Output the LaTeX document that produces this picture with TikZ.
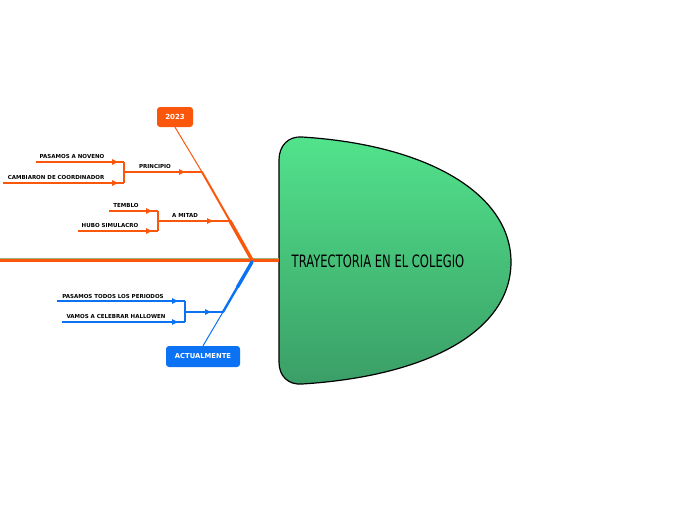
\documentclass[tikz,border=0pt]{standalone}
\usepackage{fontspec}
\setmainfont{DejaVu Sans}
\usetikzlibrary{arrows.meta,calc}
\definecolor{ora}{HTML}{FA560C}
\definecolor{blu}{HTML}{0B72F4}
\definecolor{gtop}{HTML}{52E38C}
\definecolor{gbot}{HTML}{3A9E66}
\definecolor{spineedge}{HTML}{9DB27A}
\tikzset{
  lbl/.style={font=\fontsize{5.5}{6}\selectfont\bfseries, text=black, inner sep=0pt},
  twig/.style={line width=1.3pt},
  tip/.style={-{Triangle[length=6pt,width=5.5pt]}},
  bone/.style={line cap=round},
  topic/.style={rounded corners=3pt, text=white, font=\fontsize{7}{8}\selectfont\bfseries, minimum height=20pt, inner sep=0pt},
}
\begin{document}
\begin{tikzpicture}[x=1pt,y=-1pt]
\useasboundingbox (0,0) rectangle (696,520);
% head
\path[draw=black, line width=1.2pt, top color=gtop, bottom color=gbot]
  (279,160) -- (279,362) .. controls (279,376) and (288,385) .. (302,384)
  .. controls (430,376) and (511,330) .. (511,262)
  .. controls (511,195) and (430,145) .. (302,137)
  .. controls (288,136) and (279,146) .. (279,160) -- cycle;
\node[inner sep=0pt] (head) at (378,261) {\scalebox{1.05}[1.55]{\fontsize{11}{12}\selectfont TRAYECTORIA EN EL COLEGIO}};
% spine
\coordinate (s0) at (0,260);
\coordinate (s1) at (279,260);
\coordinate (J) at (252,260);
\draw[spineedge, line width=4.6pt] (s0) -- (s1);
\draw[ora, line width=3pt] (s0) -- (s1);
% 2023 branch
\node[topic, fill=ora, minimum width=36pt] (t2023) at (175,117) {2023};
\coordinate (p1) at (202,172);
\coordinate (p2) at (230,221);
\draw[ora, bone, line width=3.4pt] (J) -- (p2);
\draw[ora, bone, line width=2pt] (p2) -- (p1);
\draw[ora, line width=1pt] (p1) -- (t2023.south);
% PRINCIPIO
\coordinate (b1) at (124,172);
\draw[ora, twig] (b1) -- (p1);
\draw[ora, twig, tip] (b1) -- (185,172);
\node[lbl] (lp) at (155,166) {PRINCIPIO};
\coordinate (c1) at (124,162);
\coordinate (c2) at (124,183);
\coordinate (c1s) at (36,162);
\coordinate (c2s) at (3,183);
\draw[ora, twig] (c1) -- (c2);
\draw[ora, twig] (c1s) -- (c1);
\draw[ora, twig, tip] (c1s) -- (118,162);
\draw[ora, twig] (c2s) -- (c2);
\draw[ora, twig, tip] (c2s) -- (118,183);
\node[lbl] (l1) at (72,156) {PASAMOS A NOVENO};
\node[lbl] (l2) at (56,177) {CAMBIARON DE COORDINADOR};
% A MITAD
\coordinate (b2) at (158,221);
\draw[ora, twig] (b2) -- (p2);
\draw[ora, twig, tip] (b2) -- (213,221);
\node[lbl] (lm) at (185,215) {A MITAD};
\coordinate (d1) at (158,211);
\coordinate (d2) at (158,231);
\coordinate (d1s) at (109,211);
\coordinate (d2s) at (78,231);
\draw[ora, twig] (d1) -- (d2);
\draw[ora, twig] (d1s) -- (d1);
\draw[ora, twig, tip] (d1s) -- (152,211);
\draw[ora, twig] (d2s) -- (d2);
\draw[ora, twig, tip] (d2s) -- (152,231);
\node[lbl] (l3) at (126,205) {TEMBLO};
\node[lbl] (l4) at (110,225) {HUBO SIMULACRO};
% ACTUALMENTE branch
\node[topic, fill=blu, minimum width=74pt, minimum height=21pt, font=\fontsize{6.8}{8}\selectfont\bfseries] (act) at (203,356.5) {ACTUALMENTE};
\coordinate (J2) at (252,262);
\coordinate (q1) at (223,312);
\coordinate (qm) at ($(J2)!0.5!(q1)$);
\draw[blu, bone, line width=3.4pt] (J2) -- (qm);
\draw[blu, bone, line width=2.4pt] (qm) -- (q1);
\draw[blu, line width=1pt] (q1) -- (act.north);
\coordinate (b3) at (185,312);
\draw[blu, twig] (b3) -- (q1);
\draw[blu, twig, tip] (b3) -- (211,312);
\coordinate (e1) at (185,301);
\coordinate (e2) at (185,322);
\coordinate (e1s) at (57,301);
\coordinate (e2s) at (62,322);
\draw[blu, twig] (e1) -- (e2);
\draw[blu, twig] (e1s) -- (e1);
\draw[blu, twig, tip] (e1s) -- (178,301);
\draw[blu, twig] (e2s) -- (e2);
\draw[blu, twig, tip] (e2s) -- (178,322);
\node[lbl] (l5) at (113,296) {PASAMOS TODOS LOS PERIODOS};
\node[lbl] (l6) at (116,316) {VAMOS A CELEBRAR HALLOWEN};
\end{tikzpicture}
\end{document}
